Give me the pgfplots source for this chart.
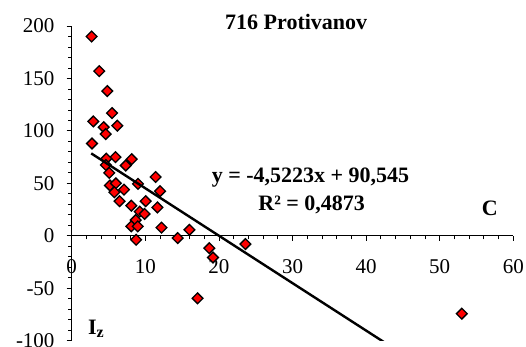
\documentclass[border=0pt]{standalone}
\usepackage{fontspec}
\setmainfont{Liberation Serif}
\usepackage{pgfplots}
\pgfplotsset{compat=1.18}
\begin{document}
\begin{tikzpicture}
\useasboundingbox (-71.7pt,-6.3pt) rectangle (454.3pt,340.7pt);
\begin{axis}[
  at={(0pt,0pt)}, anchor=south west,
  scale only axis, width=441.6pt, height=314.7pt,
  xmin=0, xmax=60, ymin=-100, ymax=200,
  clip mode=individual,
  axis x line=middle, axis y line=left,
  axis line style={-, line width=0.8pt},
  hide obscured x ticks=false, hide obscured y ticks=false,
  xtick={0,10,...,60}, xticklabels={0,10,20,30,40,50,60},
  ytick={-100,-50,...,200}, yticklabels={-100,-50,0,50,100,150,200},
  minor xtick={2,4,...,58}, minor ytick={-90,-80,...,190},
  tick align=outside,
  major tick length=5pt, minor tick length=3.5pt,
  every tick/.style={black, line width=0.8pt},
  tick label style={font=\fontsize{21}{24}\selectfont},
  xticklabel style={anchor=north, inner sep=0pt, yshift=-19pt},
  yticklabel style={anchor=east, inner sep=0pt, xshift=-12pt},
]
\addplot[only marks, mark=square*, mark size=3.8pt,
  mark options={rotate=45, fill=red, draw=black, line width=1.3pt}]
  coordinates {
  (2.7,190) (3.75,157) (4.84,138) (5.48,117) (2.94,109) (4.35,103.5)
  (6.2,105) (4.62,97) (2.76,88) (5.95,75) (4.7,73.5) (8.15,73)
  (7.34,67) (4.64,67.5) (5.1,60) (11.4,56) (9.0,49.5) (5.2,48)
  (6.0,50) (5.8,41.5) (7.1,44) (12.0,42.5) (6.5,33) (10.05,33)
  (8.1,28.7) (11.65,27) (9.25,23) (9.9,20.8) (8.7,15) (8.1,9)
  (8.97,9) (12.2,7.8) (16.0,5.7) (8.75,-3.8) (14.4,-2.2) (18.7,-11.8)
  (19.2,-20.7) (17.1,-59.6) (23.6,-7.9) (53,-74.3)
  };
\addplot[black, line width=2.4pt, no marks] coordinates {(2.65,78.56) (53,-149.14)};
\node[anchor=base, font=\bfseries\fontsize{22}{26}\selectfont] at (axis cs:30.5,196.2) {716 Protivanov};
\node[anchor=base, font=\bfseries\fontsize{22}{26}\selectfont] at (axis cs:32.45,50.4) {y = -4,5223x + 90,545};
\node[anchor=base, font=\bfseries\fontsize{22}{26}\selectfont] at (axis cs:32.6,23.9) {R² = 0,4873};
\node[anchor=base, font=\bfseries\fontsize{22}{26}\selectfont] at (axis cs:56.8,19.8) {C};
\node[anchor=base west, inner sep=0pt, font=\bfseries\fontsize{22}{26}\selectfont] at (axis cs:2.2,-94) {I\raisebox{-0.3ex}{\fontsize{16}{18}\selectfont z}};
\end{axis}
\end{tikzpicture}
\end{document}
